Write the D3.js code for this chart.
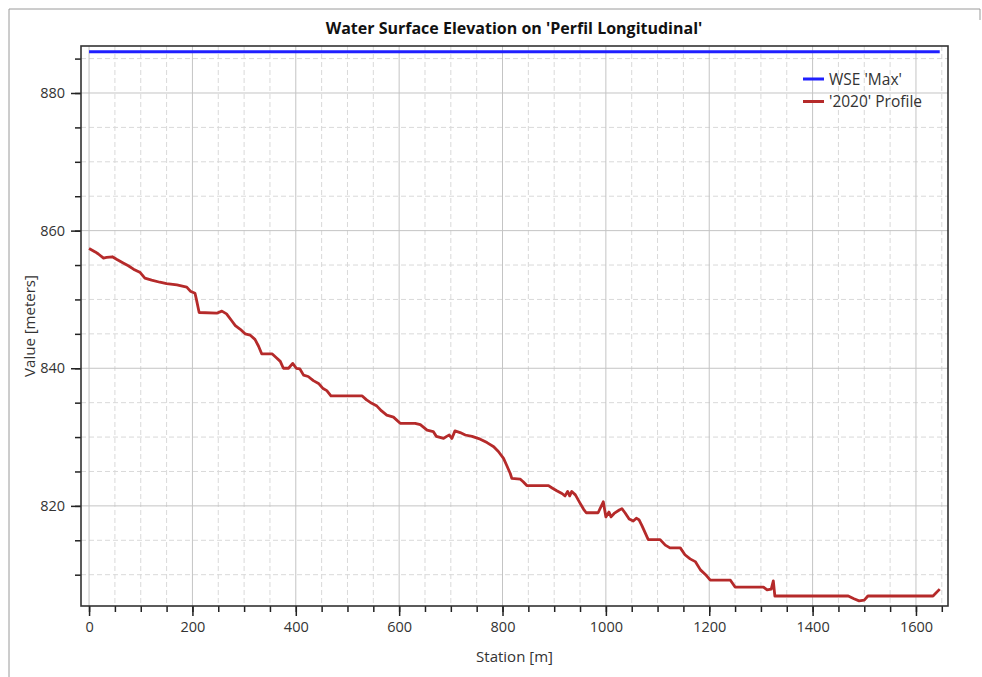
<!DOCTYPE html>
<html>
<head>
<meta charset="utf-8">
<script src="https://cdn.jsdelivr.net/npm/d3@7"></script>
<style>
  html, body { margin: 0; padding: 0; background: #fff; }
  svg { display: block; font-family: "Open Sans", "Noto Sans", sans-serif; }
</style>
</head>
<body>
<svg id="chart" width="982" height="677"></svg>
<script>
// Longitudinal profile: station [m] and water surface elevation [m]
const stations = [0,12,18,28,34,45,54,66,76,86,99,108,121,137,150,170,189,196,205,208,213,247,257,266,276,283,292,302,312,321,328,334,354,363,370,376,386,394,401,408,415,424,434,444,452,460,468,528,537,547,557,566,576,589,602,631,641,654,666,672,686,692,697,702,708,718,728,741,757,770,783,792,802,808,815,818,834,840,847,889,896,905,915,921,926,930,934,941,950,957,962,985,995,1000,1006,1010,1016,1026,1031,1037,1045,1053,1059,1064,1070,1082,1105,1115,1124,1144,1153,1163,1173,1183,1193,1202,1241,1250,1305,1312,1320,1324,1327,1469,1480,1490,1500,1507,1633,1646];
const profile2020 = [857.4,856.9,856.6,856.0,856.1,856.2,855.8,855.3,854.9,854.4,853.9,853.1,852.8,852.5,852.3,852.1,851.8,851.2,850.9,849.9,848.1,848.0,848.3,847.9,846.9,846.2,845.7,845.0,844.8,844.2,843.2,842.1,842.1,841.5,841.0,840.0,840.0,840.7,840.0,839.9,839.0,838.8,838.2,837.8,837.1,836.75,836.0,836.0,835.4,834.9,834.5,833.8,833.2,832.9,832.0,832.0,831.8,831.0,830.8,830.1,829.8,830.1,830.3,829.8,830.9,830.65,830.3,830.1,829.7,829.2,828.6,827.9,826.9,825.9,824.7,824.0,823.9,823.5,822.95,822.95,822.6,822.2,821.8,821.45,822.1,821.45,822.1,821.6,820.4,819.5,819.0,819.0,820.6,818.4,819.1,818.4,818.9,819.4,819.6,819.0,818.1,817.8,818.2,818.0,817.1,815.1,815.1,814.3,813.9,813.9,812.9,812.3,811.9,810.7,810.0,809.2,809.2,808.2,808.2,807.8,807.9,809.1,806.9,806.9,806.5,806.2,806.3,806.9,806.9,807.9];

// Maximum water surface elevation (constant along the reach)
const wseMaxStations = [0, 1646];
const wseMaxValues = [886.0, 886.0];

const xTicks = [0, 200, 400, 600, 800, 1000, 1200, 1400, 1600];
const yTicks = [820, 840, 860, 880];
const legendLabels = ["WSE 'Max'", "'2020' Profile"];
const seriesColors = ["#1f1fff", "#b52a2a"];

const svg = d3.select("#chart");
const W = 982, H = 677;
const plot = { left: 81, right: 948, top: 46, bottom: 606 };

// outer panel frame
svg.append("path")
  .attr("d", `M9,${H + 2}V9H980V20`)
  .attr("fill", "none").attr("stroke", "#9a9a9a").attr("stroke-width", 1);

const x = d3.scaleLinear().domain([-15.6, 1662]).range([plot.left, plot.right]);
const y = d3.scaleLinear().domain([805.45, 886.83]).range([plot.bottom, plot.top]);

const xMinor = d3.range(0, 1651, 50);
const yMinor = d3.range(810, 887, 5);

const grid = svg.append("g");
// minor dashed grid
grid.selectAll(".vmin").data(xMinor.filter(v => v % 200 !== 0)).join("line")
  .attr("x1", d => x(d)).attr("x2", d => x(d))
  .attr("y1", plot.top).attr("y2", plot.bottom)
  .attr("stroke", "#d9d9d9").attr("stroke-dasharray", "5,3").attr("stroke-width", 1);
grid.selectAll(".hmin").data(yMinor.filter(v => v % 20 !== 0)).join("line")
  .attr("x1", plot.left).attr("x2", plot.right)
  .attr("y1", d => y(d)).attr("y2", d => y(d))
  .attr("stroke", "#d9d9d9").attr("stroke-dasharray", "5,3").attr("stroke-width", 1);
// major solid grid
grid.selectAll(".vmaj").data(xTicks).join("line")
  .attr("x1", d => x(d)).attr("x2", d => x(d))
  .attr("y1", plot.top).attr("y2", plot.bottom)
  .attr("stroke", "#c4c4c4").attr("stroke-width", 1);
grid.selectAll(".hmaj").data(yTicks).join("line")
  .attr("x1", plot.left).attr("x2", plot.right)
  .attr("y1", d => y(d)).attr("y2", d => y(d))
  .attr("stroke", "#c4c4c4").attr("stroke-width", 1);

// axes with minor ticks
const xAxisMinor = d3.axisBottom(x).tickValues(xMinor).tickSize(6).tickFormat("");
const xAxis = d3.axisBottom(x).tickValues(xTicks).tickSize(10).tickPadding(6).tickFormat(d3.format("d"));
const yAxisMinor = d3.axisLeft(y).tickValues(yMinor).tickSize(6).tickFormat("");
const yAxis = d3.axisLeft(y).tickValues(yTicks).tickSize(10).tickPadding(6).tickFormat(d3.format("d"));

function styleAxis(g) {
  g.select(".domain").remove();
  g.selectAll(".tick line").attr("stroke", "#222").attr("stroke-width", 1.5);
  g.selectAll(".tick text").attr("fill", "#333").style("font-size", "14.5px")
    .style("font-family", "'Open Sans', sans-serif");
}
svg.append("g").attr("transform", `translate(0,${plot.bottom})`).call(xAxisMinor).call(styleAxis);
svg.append("g").attr("transform", `translate(0,${plot.bottom})`).call(xAxis).call(styleAxis);
svg.append("g").attr("transform", `translate(${plot.left},0)`).call(yAxisMinor).call(styleAxis);
svg.append("g").attr("transform", `translate(${plot.left},0)`).call(yAxis).call(styleAxis);

// plot frame
svg.append("rect")
  .attr("x", plot.left).attr("y", plot.top)
  .attr("width", plot.right - plot.left).attr("height", plot.bottom - plot.top)
  .attr("fill", "none").attr("stroke", "#333").attr("stroke-width", 1.6);

const line = d3.line().x(d => x(d[0])).y(d => y(d[1]));

svg.append("path")
  .datum(wseMaxStations.map((s, i) => [s, wseMaxValues[i]]))
  .attr("d", line).attr("fill", "none")
  .attr("stroke", seriesColors[0]).attr("stroke-width", 3);

svg.append("path")
  .datum(stations.map((s, i) => [s, profile2020[i]]))
  .attr("d", line).attr("fill", "none")
  .attr("stroke", seriesColors[1]).attr("stroke-width", 2.8)
  .attr("stroke-linejoin", "round");

// title
svg.append("text")
  .attr("x", 514).attr("y", 34).attr("text-anchor", "middle")
  .style("font-family", "'Open Sans', sans-serif").style("font-weight", "bold")
  .style("font-size", "16px").attr("fill", "#111")
  .text("Water Surface Elevation on 'Perfil Longitudinal'");

// axis titles
svg.append("text")
  .attr("x", (plot.left + plot.right) / 2).attr("y", 662).attr("text-anchor", "middle")
  .style("font-size", "15px").attr("fill", "#333").text("Station [m]");
svg.append("text")
  .attr("transform", `translate(35,${(plot.top + plot.bottom) / 2}) rotate(-90)`)
  .attr("text-anchor", "middle")
  .style("font-size", "15px").attr("fill", "#333").text("Value [meters]");

// legend
const legend = svg.append("g").attr("transform", "translate(803,79)");
legendLabels.forEach((lab, i) => {
  const g = legend.append("g").attr("transform", `translate(0,${i * 22.5})`);
  g.append("line").attr("x1", 0).attr("x2", 21).attr("y1", 0).attr("y2", 0)
    .attr("stroke", seriesColors[i]).attr("stroke-width", 3);
  g.append("text").attr("x", 26).attr("y", 5.5)
    .style("font-size", "15.5px").attr("fill", "#333").text(lab);
});
</script>
</body>
</html>
